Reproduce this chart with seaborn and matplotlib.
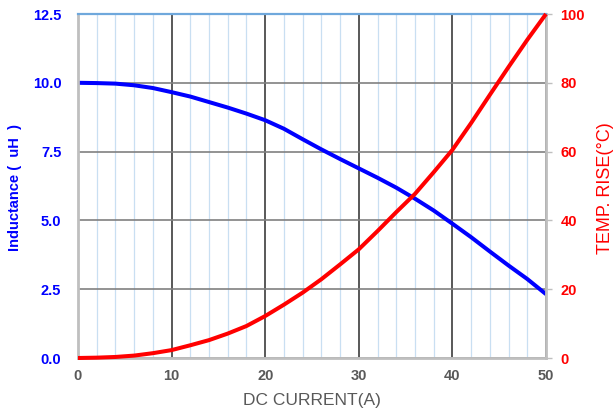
import matplotlib
matplotlib.use("Agg")
import matplotlib.pyplot as plt
import seaborn as sns
import pandas as pd

# ---- data ----
current = [0, 2, 4, 6, 8, 10, 12, 14, 16, 18, 20, 22, 24, 26, 28, 30,
           32, 34, 36, 38, 40, 42, 44, 46, 48, 50]
inductance = [10.0, 9.99, 9.97, 9.91, 9.81, 9.66, 9.50, 9.30, 9.10, 8.88, 8.64,
              8.33, 7.95, 7.58, 7.23, 6.89, 6.55, 6.19, 5.79, 5.36, 4.88,
              4.39, 3.87, 3.36, 2.87, 2.32]
temp_rise = [0.0, 0.1, 0.3, 0.7, 1.4, 2.3, 3.7, 5.2, 7.1, 9.3, 12.2, 15.5,
             19.0, 22.9, 27.2, 31.6, 36.9, 42.4, 47.7, 54.0, 60.5, 68.3,
             76.5, 84.6, 92.5, 100.0]
x_ticks = [0, 10, 20, 30, 40, 50]
x_minor = [v for v in range(2, 50, 2) if v % 10]
left_ticks = [0.0, 2.5, 5.0, 7.5, 10.0, 12.5]
right_ticks = [0, 20, 40, 60, 80, 100]

df = pd.DataFrame({"current": current, "inductance": inductance, "temp": temp_rise})

sns.set_style("white")
plt.rcParams["font.family"] = ["Liberation Sans", "Noto Sans CJK SC", "DejaVu Sans"]

BLUE = "#0000FF"
RED = "#FF0000"
GRAY_TXT = "#595959"

fig = plt.figure(figsize=(6.13, 4.16), dpi=100)
ax = fig.add_axes([78 / 613, 58 / 416, 468 / 613, 344 / 416])

sns.lineplot(data=df, x="current", y="inductance", ax=ax, color=BLUE,
             linewidth=2.9, clip_on=False, zorder=5,
             solid_joinstyle="round", solid_capstyle="butt")
ax.set_xlim(0, 50)
ax.set_ylim(0, 12.5)
ax.set_xticks(x_ticks)
ax.set_xticks(x_minor, minor=True)
ax.set_yticks(left_ticks)
ax.set_yticklabels([f"{v:.1f}" for v in left_ticks])
ax.grid(which="minor", axis="x", color="#c9dff2", linewidth=0.9)
ax.grid(which="major", axis="x", color="#3c3c3c", linewidth=1.2)
ax.grid(which="major", axis="y", color="#808080", linewidth=1.2)
ax.set_axisbelow(True)
ax.tick_params(axis="x", which="both", length=0, pad=8, labelsize=10.5,
               labelcolor=GRAY_TXT)
ax.tick_params(axis="y", length=0, pad=12, labelsize=10.5, labelcolor=BLUE)
for lab in ax.get_xticklabels() + ax.get_yticklabels():
    lab.set_fontweight("bold")
ax.set_xlabel("")
ax.set_ylabel("")
for s in ax.spines.values():
    s.set_visible(False)

ax2 = ax.twinx()
sns.lineplot(data=df, x="current", y="temp", ax=ax2, color=RED,
             linewidth=2.9, clip_on=False, zorder=5,
             solid_joinstyle="round", solid_capstyle="butt")
ax2.set_ylim(0, 100)
ax2.set_yticks(right_ticks)
ax2.tick_params(axis="y", length=4, width=1, color="#bfbfbf", pad=6.5,
                labelsize=10.5, labelcolor=RED)
for lab in ax2.get_yticklabels():
    lab.set_fontweight("bold")
ax2.set_ylabel("")
ax2.grid(False)
for side in ["left", "right", "bottom"]:
    ax2.spines[side].set_visible(True)
    ax2.spines[side].set_color("#bfbfbf")
    ax2.spines[side].set_linewidth(2)
ax2.spines["top"].set_visible(True)
ax2.spines["top"].set_color("#6fa8dc")
ax2.spines["top"].set_linewidth(1.6)

fig.text(15 / 613, 1 - 188 / 416, "Inductance (  uH  )", rotation=90,
         ha="center", va="center", color=BLUE, fontsize=10.5, fontweight="bold")
fig.text(605 / 613, 1 - 188 / 416, "TEMP. RISE(°C)", rotation=90,
         ha="center", va="center", color=RED, fontsize=13)
fig.text(312 / 613, 1 - 400 / 416, "DC CURRENT(A)", ha="center", va="center",
         color=GRAY_TXT, fontsize=12.5)

fig.savefig("out.png", dpi=100)
